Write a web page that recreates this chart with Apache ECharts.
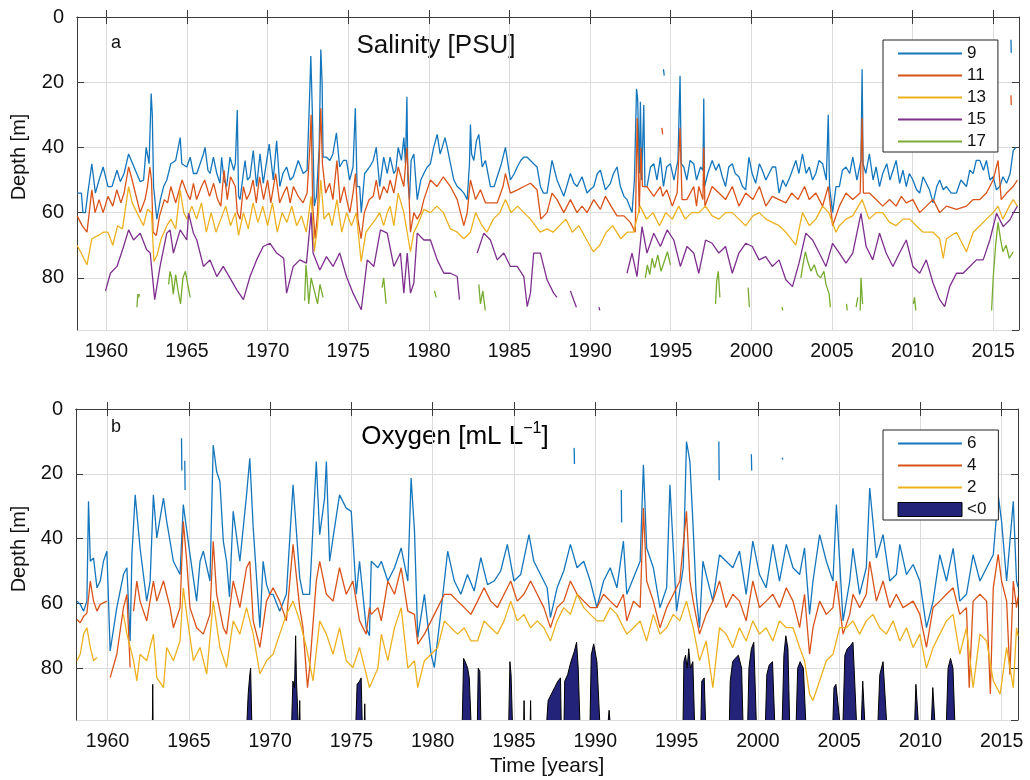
<!DOCTYPE html>
<html>
<head>
<meta charset="utf-8">
<title>Salinity and oxygen isoline depths</title>
<script src="https://cdn.jsdelivr.net/npm/echarts@6/dist/echarts.min.js"></script>
<style>
  html, body { margin: 0; background: #fff; }
  #chart { width: 1030px; height: 780px; }
</style>
</head>
<body>
<div id="chart"></div>
<script>
// depth [m] of isolines, pairs of [year, depth]; [year, null] breaks the line

// panel a: isohalines 9, 11, 13, 15, 17 PSU
const sal9 = [
  [1958.19,54],[1958.45,54],[1958.55,60],[1958.7,60],[1958.85,54],[1959.1,45],[1959.32,54],[1959.55,50],[1959.8,46],[1960.1,52],
  [1960.35,52],[1960.66,47],[1960.87,50.5],[1961.1,48],[1961.38,42],[1961.5,42],[1961.8,47],[1962.1,50.5],[1962.31,50],[1962.47,40],
  [1962.65,45],[1962.78,23.5],[1962.85,30],[1962.93,52],[1963.13,62],[1963.35,56],[1963.55,52],[1963.75,50],[1964.0,45],[1964.3,44],
  [1964.58,37],[1964.68,45],[1964.99,46],[1965.2,43],[1965.4,48],[1965.61,48],[1966.02,42],[1966.12,40],[1966.3,47],[1966.43,48],
  [1966.64,43],[1966.85,48],[1967.05,51],[1967.15,43],[1967.3,50],[1967.46,52],[1967.67,43],[1967.9,47],[1968.0,45],[1968.12,28.5],
  [1968.2,55],[1968.29,56],[1968.6,44],[1968.75,50],[1968.91,49],[1969.11,41],[1969.32,52],[1969.53,42],[1969.73,51],[1970.1,39],
  [1970.35,50],[1970.56,38],[1970.76,52],[1970.95,48],[1971.18,46],[1971.4,50],[1971.59,49],[1971.9,44],[1972.21,48],[1972.45,47],
  [1972.62,22],[1972.68,12],[1972.78,30],[1972.9,58],[1973.03,55],[1973.2,40],[1973.3,10],[1973.38,20],[1973.44,43],[1973.65,43],
  [1973.86,44],[1974.05,42],[1974.27,35.5],[1974.47,46],[1974.7,44],[1974.89,44],[1975.09,50],[1975.3,46],[1975.44,28],[1975.55,52],
  [1975.71,52],[1975.81,60],[1976.02,48],[1976.33,46],[1976.55,44],[1976.74,40],[1976.95,52],[1977.2,43],[1977.42,48],[1977.6,43],
  [1977.83,48],[1977.95,47],[1978.1,40],[1978.3,44],[1978.45,37],[1978.55,45],[1978.64,24.5],[1978.7,50],[1978.8,56],[1978.9,44],
  [1979.07,42],[1979.28,56],[1979.5,50],[1979.69,48],[1979.9,46],[1980.1,45],[1980.3,40],[1980.52,36],[1980.7,42],[1980.83,40],
  [1981.0,37],[1981.14,40],[1981.34,45],[1981.55,50],[1981.76,52],[1982.0,53],[1982.17,54],[1982.38,56],[1982.52,45],[1982.58,33],
  [1982.65,42],[1982.79,44],[1982.95,38],[1983.1,36],[1983.31,46],[1983.51,44],[1983.82,52],[1984.05,52],[1984.24,49],[1984.5,45],
  [1984.75,40],[1985.06,50],[1985.3,48],[1985.48,46],[1985.7,44],[1985.89,43],[1986.1,43],[1986.3,44],[1986.5,45],[1986.71,46],
  [1986.92,52],[1987.1,54],[1987.33,54],[1987.64,44],[1987.95,50],[1988.2,53],[1988.37,55],[1988.78,48],[1989.0,51],[1989.19,52],
  [1989.5,49],[1989.81,54],[1990.0,53],[1990.23,52],[1990.45,48],[1990.64,47],[1990.95,53],[1991.26,51],[1991.45,48],[1991.67,46],
  [1991.88,52],[1992.1,55],[1992.29,56],[1992.6,60],[1992.75,50],[1992.88,22],[1992.95,25],[1993.05,48],[1993.12,26],[1993.2,50],
  [1993.33,27],[1993.4,52],[1993.53,52],[1993.75,46],[1993.95,45],[1994.15,50],[1994.36,43],[1994.55,52],[1994.75,46],[1994.98,45],
  [1995.2,50],[1995.45,44],[1995.58,18],[1995.65,45],[1995.81,46],[1996.0,50],[1996.2,44],[1996.43,45],[1996.6,50],[1996.85,46],
  [1997.0,47],[1997.05,25],[1997.1,52],[1997.3,48],[1997.57,44],[1997.8,47],[1997.99,45],[1998.2,49],[1998.4,52],[1998.6,46],
  [1998.82,45],[1999.0,48],[1999.23,49],[1999.45,52],[1999.65,53],[1999.85,43],[2000.05,48],[2000.27,51],[2000.5,45],[2000.68,47],
  [2000.9,50],[2001.1,48],[2001.3,46],[2001.51,46],[2001.72,54],[2001.95,50],[2002.14,52],[2002.4,49],[2002.76,44],[2002.95,48],
  [2003.17,42],[2003.4,48],[2003.59,46],[2003.8,50],[2004.0,48],[2004.2,44],[2004.42,45],[2004.65,50],[2004.77,30],[2004.85,52],
  [2005.04,60],[2005.25,52],[2005.46,52],[2005.65,47],[2005.87,46],[2006.1,48],[2006.29,43],[2006.55,50],[2006.8,44],[2006.87,16],
  [2006.93,45],[2007.1,48],[2007.32,42],[2007.55,50],[2007.74,46],[2007.95,52],[2008.15,48],[2008.4,45],[2008.6,50],[2008.98,44],
  [2009.2,51],[2009.4,47],[2009.61,52],[2009.8,48],[2010.02,50],[2010.25,53],[2010.44,54],[2010.65,49],[2010.85,51],[2011.05,53],
  [2011.27,57],[2011.5,52],[2011.68,50],[2011.9,53],[2012.1,52],[2012.4,54],[2012.72,54],[2013.0,50],[2013.34,52],[2013.55,47],
  [2013.76,48],[2013.95,44],[2014.17,44],[2014.4,47],[2014.58,44],[2014.8,50],[2015.0,49],[2015.2,53],[2015.41,52],[2015.6,49],
  [2015.83,51],[2016.05,48],[2016.24,41],[2016.4,40],
  [2016.4,null],[1994.55,16],[1994.6,18],[1994.6,null],[2016.1,7],[2016.12,11]
];
const sal11 = [
  [1958.19,61],[1958.5,64],[1958.8,66],[1959.1,53],[1959.3,60],[1959.55,56],[1959.8,60],[1960.1,55],[1960.4,58],[1960.65,53],
  [1960.9,57],[1961.1,54],[1961.38,46],[1961.6,50],[1961.9,56],[1962.1,60],[1962.4,56],[1962.55,52],[1962.7,46],[1962.8,50],
  [1962.9,66],[1963.1,67],[1963.3,61],[1963.6,56],[1963.8,57],[1964.0,52],[1964.3,57],[1964.58,52],[1964.7,50],[1964.99,54],
  [1965.2,56],[1965.4,51],[1965.6,56],[1965.9,52],[1966.1,50],[1966.4,55],[1966.65,51],[1966.9,56],[1967.1,58],[1967.3,47],
  [1967.5,56],[1967.7,49],[1968.0,52],[1968.12,60],[1968.3,62],[1968.5,52],[1968.7,56],[1968.9,54],[1969.1,50],[1969.3,57],
  [1969.5,49],[1969.75,56],[1970.0,50],[1970.2,57],[1970.5,48],[1970.75,57],[1971.0,54],[1971.2,52],[1971.4,57],[1971.6,52],
  [1971.9,55],[1972.2,57],[1972.45,54],[1972.62,40],[1972.7,30],[1972.8,58],[1972.95,68],[1973.1,60],[1973.3,28],[1973.4,45],
  [1973.6,54],[1973.85,51],[1974.05,56],[1974.3,44],[1974.5,57],[1974.75,52],[1974.95,57],[1975.1,60],[1975.3,54],[1975.45,48],
  [1975.6,62],[1975.8,68],[1976.0,60],[1976.3,56],[1976.55,55],[1976.74,50],[1976.95,56],[1977.2,52],[1977.42,54],[1977.6,50],
  [1977.83,54],[1978.1,46],[1978.45,52],[1978.64,40],[1978.75,52],[1978.86,66],[1979.07,60],[1979.28,62],[1979.5,60],[1979.69,56],
  [1980.1,50],[1980.5,52],[1980.9,49],[1981.34,52],[1981.76,56],[1982.17,64],[1982.38,60],[1982.58,50],[1982.9,56],[1983.2,53],
  [1983.51,57],[1984.24,57],[1984.6,52],[1984.75,48],[1985.06,54],[1985.5,53],[1985.89,52],[1986.3,51],[1986.71,53],[1986.95,62],
  [1987.33,60],[1987.64,54],[1987.95,56],[1988.37,60],[1988.78,56],[1989.19,60],[1989.5,58],[1989.81,60],[1990.23,56],[1990.64,59],
  [1990.95,55],[1991.3,58],[1991.67,61],[1992.1,61],[1992.5,63],[1992.8,66],[1992.92,31],[1993.05,60],[1993.15,40],[1993.25,52],
  [1993.53,52],[1993.95,55],[1994.36,52],[1994.5,55],[1994.75,53],[1995.1,58],[1995.4,54],[1995.58,34],[1995.7,56],[1996.0,56],
  [1996.43,52],[1996.6,58],[1996.74,52],[1997.0,56],[1997.05,40],[1997.12,58],[1997.35,55],[1997.57,52],[1997.99,54],[1998.4,56],
  [1998.82,52],[1999.23,58],[1999.65,54],[2000.1,56],[2000.5,52],[2000.9,58],[2001.3,55],[2001.72,56],[2002.14,57],[2002.5,54],
  [2002.9,56],[2003.3,52],[2003.59,56],[2004.0,54],[2004.42,58],[2004.77,52],[2005.04,64],[2005.46,58],[2005.87,54],[2006.29,56],
  [2006.75,54],[2006.87,31],[2006.95,54],[2007.32,54],[2007.74,56],[2008.15,58],[2008.57,56],[2008.98,58],[2009.3,55],[2009.61,57],
  [2010.02,56],[2010.44,60],[2010.85,58],[2011.27,56],[2011.68,60],[2012.1,58],[2012.72,59],[2013.34,58],[2013.76,56],[2014.17,56],
  [2014.58,54],[2015.0,50],[2015.3,44],[2015.5,56],[2015.83,54],[2016.24,52],[2016.5,50],
  [2016.5,null],[1994.45,34],[1994.5,36],[1994.5,null],[2016.1,24],[2016.12,27]
];
const sal13 = [
  [1958.19,70],[1958.5,73],[1958.8,76],[1959.1,68],[1959.5,67],[1959.8,66],[1960.1,66],[1960.4,70],[1960.7,64],[1961.0,65],
  [1961.38,52],[1961.6,57],[1962.0,61],[1962.3,64],[1962.55,59],[1962.8,60],[1962.95,75],[1963.15,73],[1963.4,68],[1963.75,64],
  [1964.0,62],[1964.3,65],[1964.58,53],[1964.8,60],[1965.0,62],[1965.3,58],[1965.6,62],[1965.9,57],[1966.2,66],[1966.5,60],
  [1966.8,66],[1967.1,62],[1967.4,58],[1967.7,64],[1968.0,60],[1968.2,67],[1968.5,60],[1968.8,65],[1969.1,57],[1969.4,63],
  [1969.7,58],[1970.0,64],[1970.3,57],[1970.6,66],[1970.9,60],[1971.2,63],[1971.5,58],[1971.8,64],[1972.1,61],[1972.4,66],
  [1972.7,55],[1972.9,72],[1973.1,64],[1973.3,50],[1973.5,62],[1973.8,60],[1974.0,64],[1974.3,56],[1974.6,66],[1974.9,60],
  [1975.2,64],[1975.5,60],[1975.8,75],[1976.1,66],[1976.4,64],[1976.7,62],[1976.95,60],[1977.2,64],[1977.42,60],[1977.6,58],
  [1977.83,64],[1978.1,54],[1978.45,60],[1978.86,72],[1979.07,66],[1979.28,64],[1979.69,59],[1980.1,60],[1980.5,58],[1980.9,60],
  [1981.34,65],[1981.76,66],[1982.17,68],[1982.58,66],[1982.9,60],[1983.3,64],[1983.6,66],[1984.0,62],[1984.4,60],[1984.75,56],
  [1985.1,60],[1985.5,58],[1985.9,60],[1986.3,62],[1986.9,66],[1987.33,65],[1987.7,66],[1988.1,64],[1988.5,62],[1988.9,66],
  [1989.3,64],[1989.75,68],[1990.2,72],[1990.6,70],[1991.0,66],[1991.4,64],[1991.9,68],[1992.3,66],[1992.7,66],[1993.1,58],
  [1993.5,62],[1993.9,60],[1994.3,64],[1994.7,60],[1995.1,62],[1995.5,58],[1995.9,62],[1996.3,60],[1996.74,60],[1997.16,58],
  [1997.57,61],[1997.99,62],[1998.4,60],[1998.82,60],[1999.23,62],[1999.65,64],[2000.1,61],[2000.5,60],[2000.9,62],[2001.3,63],
  [2001.72,64],[2002.14,66],[2002.76,70],[2003.17,60],[2003.6,64],[2004.0,62],[2004.42,58],[2004.8,60],[2005.25,66],[2005.46,64],
  [2005.87,62],[2006.29,61],[2006.87,56],[2007.3,62],[2007.74,60],[2008.15,60],[2008.57,63],[2008.98,64],[2009.4,62],[2009.82,62],
  [2010.23,64],[2010.65,66],[2011.27,66],[2011.68,68],[2011.9,74],[2012.1,68],[2012.72,66],[2013.34,72],[2013.76,66],[2014.17,64],
  [2014.58,62],[2015.0,60],[2015.3,58],[2015.6,62],[2016.0,58],[2016.24,56],[2016.5,58]
];
const sal15 = [
  [1959.95,84],[1960.25,78.6],[1960.66,76.5],[1961.07,70.4],[1961.38,65.3],[1961.69,68.4],[1962.1,66.3],[1962.5,71.4],[1962.72,72.4],[1962.8,76.5],
  [1963.0,86.7],[1963.33,76.5],[1963.75,66.3],[1963.95,65.3],[1964.16,72.4],[1964.58,65.3],[1964.99,68.4],[1965.1,60.2],[1965.4,66.3],[1965.61,68.4],
  [1966.02,76.5],[1966.43,74.5],[1966.85,79.6],[1967.25,76.5],[1968.09,83.7],[1968.5,86.7],[1968.91,79.6],[1969.32,74.5],[1969.73,70.4],[1970.15,69.4],
  [1970.56,72.4],[1971.0,74],[1971.18,84.7],[1971.59,76.5],[1972.0,74.5],[1972.41,75.5],[1972.7,60],[1972.82,72.4],[1973.24,77.6],[1973.65,73.5],
  [1974.06,76.5],[1974.47,72.4],[1974.89,79.6],[1975.3,84.7],[1975.5,86.7],[1975.81,89.8],[1976.18,74.5],[1976.59,76.5],[1977.0,65.3],[1977.42,66.3],
  [1977.83,76.5],[1978.24,72.4],[1978.45,84.7],[1978.66,72.4],[1978.86,84.7],[1979.07,81.6],[1979.28,66.3],[1979.69,68.4],[1980.1,68.4],[1980.52,74.5],
  [1980.93,78.6],[1981.34,78.6],[1981.76,79.6],[1981.9,86.7],[1981.9,null],
  [1983.0,72.4],[1983.41,66.3],[1983.82,68.4],[1984.24,74.5],[1984.65,72.4],[1985.06,76.5],[1985.48,76.5],[1985.89,79.6],[1986.1,88.8],[1986.3,84.7],
  [1986.5,72.4],[1986.92,72.4],[1987.33,80.6],[1987.74,84.7],[1987.95,86],[1987.95,null],
  [1988.78,84],[1989.0,87],[1989.15,89],[1989.15,null],[1990.55,89],[1990.6,90],[1990.6,null],
  [1992.29,78.6],[1992.6,72.4],[1992.91,79.6],[1993.22,64.3],[1993.53,72.4],[1993.95,66.3],[1994.36,70.4],[1994.78,65.3],[1995.19,68.4],[1995.6,76.5],
  [1996.01,70.4],[1996.43,72.4],[1996.74,78.6],[1997.16,68.4],[1997.57,69.4],[1997.99,72.4],[1998.4,70.4],[1998.82,78.6],[1999.23,72.4],[1999.65,69.4],
  [2000.06,70.4],[2000.48,74.5],[2000.89,73.5],[2001.3,76.5],[2001.72,74.5],[2002.14,80.6],[2002.55,82.7],[2002.96,75.5],[2003.38,66.3],[2003.8,68.4],
  [2004.21,72.4],[2004.63,76.5],[2005.04,69.4],[2005.46,72.4],[2005.87,75.5],[2006.29,72.4],[2006.8,60.2],[2007.12,70.4],[2007.53,74.5],[2007.95,66.3],
  [2008.36,72.4],[2008.78,76.5],[2009.19,72.4],[2009.61,68.4],[2010.02,76.5],[2010.44,78.6],[2010.85,74.5],[2011.27,81.6],[2011.68,86.7],[2011.99,88.8],
  [2012.3,82.7],[2012.72,78.6],[2013.13,78.6],[2013.55,76.5],[2013.96,74.5],[2014.38,74.5],[2014.79,68.4],[2015.21,60.2],[2015.62,64.3],[2016.04,62.2],
  [2016.24,60.2],[2016.5,58]
];
const sal17 = [
  [1961.9,89],[1961.95,85],[1962.0,86],[1962.05,85],[1962.05,null],
  [1963.86,82],[1963.95,78],[1964.05,80],[1964.15,85],[1964.3,79],[1964.45,84],[1964.6,88],[1964.75,80],[1964.9,78],[1965.05,82],[1965.2,86],[1965.2,null],
  [1972.3,87],[1972.38,76],[1972.45,80],[1972.55,88],[1972.7,80],[1972.9,84],[1973.1,88],[1973.25,82],[1973.44,86],[1973.44,null],
  [1977.1,83],[1977.2,80],[1977.35,88],[1977.35,null],[1980.35,84],[1980.45,86],[1980.45,null],
  [1983.1,82],[1983.2,88],[1983.35,84],[1983.5,90],[1983.5,null],
  [1993.43,80],[1993.55,76],[1993.7,79],[1993.85,74],[1994.0,77],[1994.2,73],[1994.4,78],[1994.6,75],[1994.8,72],[1994.98,76],[1994.98,null],
  [1997.78,88],[1997.85,81],[1997.95,78],[1998.05,86],[1998.05,null],[1999.8,83],[1999.88,89],[1999.88,null],[2001.9,89],[2001.95,90],[2001.95,null],
  [2003.07,80],[2003.2,76],[2003.35,72],[2003.5,75],[2003.7,78],[2003.9,76],[2004.1,79],[2004.3,80],[2004.5,78],[2004.63,82],[2004.83,85],[2004.9,89],[2004.9,null],
  [2005.9,88],[2005.95,90],[2005.95,null],[2006.5,89],[2006.6,86],[2006.6,null],[2006.75,90],[2006.8,80],[2006.9,88],[2006.9,null],
  [2010.05,88],[2010.12,86],[2010.2,90],[2010.2,null],
  [2014.9,90],[2015.0,80],[2015.15,70],[2015.3,63],[2015.45,68],[2015.6,72],[2015.8,70],[2016.0,74],[2016.24,72]
];

// panel b: oxygen isolines 6, 4, 2 mL/L and anoxic (<0) patches
const oxy6 = [
  [1958.12,59.3],[1958.32,60.3],[1958.53,62.4],[1958.73,59.3],[1958.83,28.5],[1958.94,47],[1959.14,46],[1959.35,55.2],[1959.55,53.1],[1959.75,47],
  [1959.96,43.9],[1960.16,74.7],[1960.57,61.3],[1960.98,51.1],[1961.19,49],[1961.39,71.6],[1961.5,45],[1961.7,26.5],[1962.0,42.9],[1962.41,59.3],
  [1962.62,53.1],[1962.82,26.5],[1963.03,39.8],[1963.44,27.5],[1963.64,34.7],[1964.05,47],[1964.46,51.1],[1964.66,29.5],[1965.07,44.9],[1965.48,59.3],
  [1965.69,47],[1965.89,43.9],[1966.3,53.1],[1966.5,11.1],[1966.71,19.3],[1966.91,22.4],[1967.12,40.8],[1967.32,47],[1967.5,58],[1967.73,31.6],
  [1967.9,38],[1968.14,47],[1968.55,26.5],[1968.75,15.2],[1968.96,36.7],[1969.37,67.5],[1969.57,47],[1969.78,54.2],[1969.98,57.2],[1970.18,57.2],
  [1970.59,62.4],[1971.0,57.2],[1971.41,23.4],[1971.82,52.1],[1972.02,57.2],[1972.43,57.2],[1972.84,16.2],[1973.05,38.8],[1973.35,27.5],[1973.46,16.2],
  [1973.66,47],[1973.87,39.8],[1974.27,26.5],[1974.68,30.6],[1974.99,31.6],[1975.3,57.2],[1975.5,47],[1975.91,67.5],[1976.11,70],[1976.22,47],
  [1976.63,49],[1976.84,47],[1977.24,53.1],[1977.65,49],[1978.06,42.9],[1978.47,53.1],[1978.67,21.3],[1978.88,37.7],[1979.08,70.6],[1979.49,57.2],
  [1979.9,75.7],[1980.1,79.8],[1980.51,62.4],[1980.92,43.9],[1981.33,53.1],[1981.73,57.2],[1982.14,51.1],[1982.55,56.2],[1982.96,45.9],[1983.37,54.2],
  [1983.78,53.1],[1984.18,50],[1984.59,41.8],[1985.0,53.1],[1985.41,51.1],[1985.92,38.8],[1986.22,47],[1986.63,51.1],[1987.04,55.2],[1987.24,64.4],
  [1987.65,55.2],[1988.06,50],[1988.47,41.8],[1988.88,49],[1989.29,47],[1989.69,53.1],[1990.1,61.3],[1990.51,53.1],[1990.92,49],[1991.33,55.2],
  [1991.73,40.8],[1991.94,57.2],[1992.35,52.1],[1992.76,47],[1992.96,17.2],[1993.16,42.9],[1993.57,49],[1993.98,61.3],[1994.39,55.2],[1994.59,23.4],
  [1995.0,62.4],[1995.41,49],[1995.61,10.1],[1995.82,16.2],[1996.02,36.7],[1996.2,57],[1996.41,67.5],[1996.62,47],[1996.82,51.1],[1997.23,59.3],
  [1997.64,45],[1998.05,47],[1998.46,49],[1998.87,43.9],[1999.28,57.2],[1999.69,40.8],[2000.1,51.1],[2000.51,55.2],[2000.92,41.8],[2001.33,53.1],
  [2001.75,41.8],[2002.16,49],[2002.57,51.1],[2002.87,42.9],[2003.18,63.4],[2003.39,53.1],[2003.8,38.8],[2004.21,47],[2004.62,53.1],[2004.83,29.5],
  [2005.24,65.4],[2005.65,53.1],[2005.85,43],[2006.26,57.2],[2006.67,49],[2006.88,24.4],[2007.29,46],[2007.7,38.8],[2008.11,53.1],[2008.52,51.1],
  [2008.73,41.8],[2009.14,51.1],[2009.55,48],[2009.96,53.1],[2010.37,67.5],[2010.78,59.3],[2011.19,45],[2011.6,53.1],[2012.01,43],[2012.42,59.3],
  [2012.83,57.2],[2013.24,45],[2013.66,53.1],[2014.07,49],[2014.48,45],[2014.78,26.5],[2014.99,34.7],[2015.3,53.1],[2015.71,28.5],[2015.91,53.1],
  [2016.0,55],
  [2016.0,null],[1964.55,9],[1964.57,19],[1964.57,null],[1964.75,16],[1964.77,25],[1964.77,null],[1988.7,12],[1988.72,17],[1988.72,null],
  [1991.6,25],[1991.62,35],[1991.62,null],[1997.6,10],[1997.62,22],[1997.62,null],[1999.6,14],[1999.62,19],[1999.62,null],[2001.5,15],[2001.53,15.6]
];
const oxy4 = [
  [1958.12,65],[1958.32,66],[1958.53,64],[1958.73,63],[1958.94,53.1],[1959.14,59.3],[1959.35,62.4],[1959.55,60.3],[1959.96,59.3],[1959.96,null],
  [1960.16,82.9],[1960.57,75.7],[1960.98,61.3],[1961.19,57.2],[1961.39,79.8],[1961.39,null],
  [1961.6,62.4],[1961.8,53.1],[1962.0,59.3],[1962.41,65.4],[1962.82,53.1],[1963.03,59.3],[1963.44,53.1],[1963.85,61.3],[1964.05,67.5],[1964.46,61.3],
  [1964.66,34.7],[1964.87,47],[1965.07,61.3],[1965.48,67.5],[1965.89,69.5],[1966.3,63.4],[1966.5,40.8],[1966.71,57.2],[1967.12,67.5],[1967.32,69.5],
  [1967.73,53.1],[1968.14,61.3],[1968.55,49],[1968.75,47],[1968.96,65.4],[1969.37,73.6],[1969.78,59.3],[1970.18,55.2],[1970.59,59.3],[1971.0,65.4],
  [1971.41,41.8],[1971.82,61.3],[1972.02,67.5],[1972.3,86],[1972.43,80],[1972.84,53.1],[1973.05,47],[1973.46,57.2],[1973.87,59.3],[1974.27,49],
  [1974.68,57.2],[1975.09,53.1],[1975.5,65.4],[1975.91,69.5],[1976.11,61.3],[1976.22,63.4],[1976.63,61.3],[1976.84,65.4],[1977.24,53.1],[1977.65,57.2],
  [1978.06,49],[1978.47,62.4],[1978.88,63.4],[1979.08,72.6],[1979.49,69.5],[1979.9,65.4],[1980.31,61.3],[1980.72,57.2],[1981.12,57.2],[1981.53,59.3],
  [1981.94,61.3],[1982.35,63.4],[1982.76,59.3],[1983.16,55.2],[1983.57,59.3],[1983.98,61.3],[1984.39,57.2],[1984.8,53.1],[1985.2,59.3],[1985.61,57.2],
  [1986.02,53.1],[1986.43,57.2],[1986.84,61.3],[1987.24,67.5],[1987.65,61.3],[1988.06,59.3],[1988.47,53.1],[1988.88,57.2],[1989.29,59.3],[1989.69,61.3],
  [1990.1,61.3],[1990.51,57.2],[1990.92,59.3],[1991.33,61.3],[1991.73,57.2],[1991.94,65.4],[1992.35,59.3],[1992.76,61.3],[1992.96,30.6],[1993.16,53.1],
  [1993.57,59.3],[1993.98,67.5],[1994.39,61.3],[1994.8,57.2],[1995.2,53.1],[1995.61,31.6],[1995.82,53.1],[1996.02,59.3],[1996.41,69.5],[1996.82,63.4],
  [1997.23,59.3],[1997.64,53.1],[1998.05,61.3],[1998.46,57.2],[1998.87,59.3],[1999.28,65.4],[1999.69,53.1],[2000.1,61.3],[2000.51,59.3],[2000.92,57.2],
  [2001.33,61.3],[2001.75,55.2],[2002.16,59.3],[2002.57,67.5],[2002.87,57.2],[2003.18,75.7],[2003.39,67.5],[2003.8,59.3],[2004.21,63.4],[2004.62,61.3],
  [2004.83,53.1],[2005.24,69.5],[2005.65,63.4],[2005.85,57.2],[2006.26,61.3],[2006.67,57.2],[2006.88,47],[2007.29,59.3],[2007.7,53.1],[2008.11,61.3],
  [2008.52,57.2],[2008.93,61.3],[2009.55,59.3],[2009.96,63.4],[2010.37,73.6],[2010.78,61.3],[2011.19,59.3],[2011.6,57.2],[2012.01,55.2],[2012.42,63.4],
  [2012.83,61.3],[2013.0,86],[2013.24,59.3],[2013.66,57.2],[2014.07,59.3],[2014.3,88],[2014.48,55.2],[2014.78,44.9],[2014.99,53.1],[2015.3,59.3],
  [2015.5,82],[2015.71,53.1],[2015.91,61.3],[2016.0,58]
];
const oxy2 = [
  [1958.12,77.7],[1958.32,75.7],[1958.53,69.5],[1958.73,67.5],[1958.94,73.6],[1959.14,77.7],[1959.35,76.7],[1959.35,null],
  [1960.98,63.4],[1961.19,69.5],[1961.6,77.7],[1961.8,83.9],[1962.0,75.7],[1962.41,77.7],[1962.82,69.5],[1963.03,82.9],[1963.44,86],[1963.64,73.6],
  [1964.05,77.7],[1964.46,71.6],[1964.66,55.2],[1964.87,63.4],[1965.28,77.7],[1965.69,73.6],[1966.1,81.8],[1966.5,59.3],[1966.91,73.6],[1967.32,79.8],
  [1967.73,65.4],[1968.14,69.5],[1968.55,61.3],[1968.96,69.5],[1969.37,81.8],[1969.78,77.7],[1970.18,75.7],[1970.59,69.5],[1971.0,63.4],[1971.41,59.3],
  [1971.82,65.4],[1972.23,73.6],[1972.64,83.9],[1973.05,65.4],[1973.46,69.5],[1973.87,75.7],[1974.27,67.5],[1974.68,77.7],[1975.09,79.8],[1975.5,73.6],
  [1975.91,81.8],[1976.11,86],[1976.22,86],[1976.63,80],[1976.84,69.5],[1977.24,77.7],[1977.65,67.5],[1978.06,61.3],[1978.47,80],[1978.88,77.7],
  [1979.08,86],[1979.49,77.7],[1979.9,75.7],[1980.31,73.6],[1980.72,65.4],[1981.12,67.5],[1981.53,69.5],[1981.94,67.5],[1982.35,71.6],[1982.76,71.6],
  [1983.16,65.4],[1983.57,67.5],[1983.98,69.5],[1984.39,65.4],[1984.8,59.3],[1985.2,65.4],[1985.61,63.4],[1986.02,67.5],[1986.43,65.4],[1986.84,67.5],
  [1987.24,71.6],[1987.65,65.4],[1988.06,61.3],[1988.47,63.4],[1988.88,57.2],[1989.29,61.3],[1989.69,63.4],[1990.1,65.4],[1990.51,65.4],[1990.92,61.3],
  [1991.33,63.4],[1991.73,67.5],[1991.94,69.5],[1992.35,67.5],[1992.76,65.4],[1993.16,71.6],[1993.57,63.4],[1993.98,69.5],[1994.39,67.5],[1994.8,63.4],
  [1995.2,65.4],[1995.61,59.3],[1996.02,67.5],[1996.41,77.7],[1996.82,71.6],[1997.23,86],[1997.64,67.5],[1998.05,69.5],[1998.46,73.6],[1998.87,67.5],
  [1999.28,71.6],[1999.69,65.4],[2000.1,69.5],[2000.51,67.5],[2000.92,71.6],[2001.33,65.4],[2001.75,67.5],[2002.16,67.5],[2002.57,73.6],[2002.87,77.7],
  [2003.18,88],[2003.39,90],[2003.8,83.9],[2004.21,77.7],[2004.62,75.7],[2005.03,67.5],[2005.44,67.5],[2005.85,65.4],[2006.26,69.5],[2006.67,65.4],
  [2007.08,63.4],[2007.49,67.5],[2007.9,69.5],[2008.32,65.4],[2008.73,71.6],[2009.14,67.5],[2009.55,73.6],[2009.96,69.5],[2010.37,80],[2010.78,73.6],
  [2011.19,69.5],[2011.6,65.4],[2012.01,63.4],[2012.42,75.7],[2012.83,67.5],[2013.24,86],[2013.66,69.5],[2014.07,71.6],[2014.48,83.9],[2014.9,88],
  [2015.3,73.6],[2015.71,86],[2015.91,67.5],[2016.0,70]
];
const anoxic = [
  [1962.76,96],[1962.78,85],[1962.8,96],[1962.8,null],
  [1968.58,96],[1968.65,88],[1968.75,82],[1968.8,80],[1968.87,96],[1968.87,null],
  [1971.33,96],[1971.4,84],[1971.5,86],[1971.57,70],[1971.62,84],[1971.72,96],[1971.72,null],[1971.8,96],[1971.82,90],[1971.84,96],[1971.84,null],
  [1975.28,96],[1975.35,85],[1975.5,84],[1975.6,83],[1975.66,96],[1975.66,null],[1975.8,96],[1975.82,91],[1975.84,96],[1975.84,null],
  [1981.82,96],[1981.9,77],[1982.0,78],[1982.15,80],[1982.25,83],[1982.35,96],[1982.35,null],
  [1982.75,96],[1982.8,80],[1982.9,81],[1982.96,96],[1982.96,null],
  [1984.68,96],[1984.75,78],[1984.82,82],[1984.9,96],[1984.9,null],
  [1985.6,96],[1985.62,90],[1985.64,96],[1985.64,null],[1986.0,96],[1986.02,90],[1986.04,96],[1986.04,null],
  [1987.02,96],[1987.1,90],[1987.3,88],[1987.5,86],[1987.7,84],[1987.86,83],[1987.9,96],[1987.9,null],
  [1988.08,96],[1988.12,84],[1988.3,82],[1988.5,78],[1988.7,75],[1988.85,72],[1988.95,80],[1989.05,96],[1989.05,null],
  [1989.68,96],[1989.75,76],[1989.9,72.5],[1990.1,78],[1990.27,96],[1990.27,null],
  [1990.8,96],[1990.85,93],[1990.9,96],[1990.9,null],
  [1995.4,96],[1995.45,78],[1995.55,76],[1995.65,80],[1995.75,74],[1995.85,80],[1996.0,78],[1996.1,96],[1996.1,null],
  [1996.5,96],[1996.55,84],[1996.7,83],[1996.78,96],[1996.78,null],
  [1998.25,96],[1998.3,84],[1998.45,78],[1998.6,77],[1998.8,76],[1999.0,80],[1999.08,96],[1999.08,null],
  [1999.38,96],[1999.45,80],[1999.6,74],[1999.75,72],[1999.9,96],[1999.9,null],
  [2000.47,96],[2000.55,82],[2000.7,79],[2000.9,78],[2001.03,96],[2001.03,null],
  [2001.5,96],[2001.6,76],[2001.72,70],[2001.85,74],[2001.95,96],[2001.95,null],
  [2002.36,96],[2002.45,80],[2002.6,78],[2002.8,80],[2002.94,96],[2002.94,null],
  [2004.62,96],[2004.68,86],[2004.8,85],[2005.03,96],[2005.03,null],
  [2005.24,96],[2005.35,76],[2005.5,74],[2005.7,73],[2005.85,72],[2006.06,96],[2006.06,null],
  [2006.37,96],[2006.45,84],[2006.57,96],[2006.57,null],
  [2007.39,96],[2007.5,82],[2007.7,78],[2007.91,96],[2007.91,null],
  [2009.65,96],[2009.72,85],[2009.86,96],[2009.86,null],
  [2010.68,96],[2010.76,86],[2010.88,96],[2010.88,null],
  [2011.6,96],[2011.7,80],[2011.85,77],[2012.0,80],[2012.11,96]
];

const salNames = ['9', '11', '13', '15', '17'];
const oxyNames = ['6', '4', '2', '<0'];

const FONT = 'Liberation Sans, Arial, sans-serif';
const INK = '#111';
const FRAME = '#3c3c3c';
const colors = {
  blue: '#1476bd', orange: '#d95319', yellow: '#edb120',
  purple: '#7e2f8e', green: '#77ac30', navy: '#23237a'
};
const depthMax = 96;

const chart = echarts.init(document.getElementById('chart'), null, { renderer: 'canvas' });

function timeAxes(gridIndex, min, max, withName) {
  const bottom = {
    type: 'value', gridIndex, position: 'bottom', min, max, splitNumber: 12,
    axisLine: { show: true, lineStyle: { color: FRAME, width: 1 } },
    axisTick: { show: true, inside: true, length: 7, lineStyle: { color: FRAME } },
    axisLabel: {
      show: true, margin: 12, fontSize: 19.5, fontFamily: FONT, color: INK,
      showMinLabel: false, showMaxLabel: false,
      formatter: (v) => String(v)
    },
    splitLine: { show: true, lineStyle: { color: '#dcdcdc', width: 1 } }
  };
  if (withName) {
    Object.assign(bottom, {
      name: 'Time [years]', nameLocation: 'middle', nameGap: 36,
      nameTextStyle: { fontSize: 21, fontFamily: FONT, color: INK }
    });
  }
  const top = {
    type: 'value', gridIndex, position: 'top', min, max, splitNumber: 12,
    axisLine: { show: true, lineStyle: { color: FRAME, width: 1 } },
    axisTick: { show: true, inside: true, length: 7, lineStyle: { color: FRAME } },
    axisLabel: { show: false }, splitLine: { show: false }
  };
  return [bottom, top];
}

function depthAxes(gridIndex) {
  const left = {
    type: 'value', gridIndex, position: 'left', inverse: true, min: 0, max: depthMax, interval: 20,
    axisLine: { show: true, lineStyle: { color: FRAME, width: 1 } },
    axisTick: { show: true, inside: true, length: 7, lineStyle: { color: FRAME } },
    axisLabel: { margin: 13, fontSize: 20, fontFamily: FONT, color: INK, showMaxLabel: false },
    splitLine: { show: true, lineStyle: { color: '#dcdcdc', width: 1 } }
  };
  const right = {
    type: 'value', gridIndex, position: 'right', inverse: true, min: 0, max: depthMax, interval: 20,
    axisLine: { show: true, lineStyle: { color: FRAME, width: 1 } },
    axisTick: { show: true, inside: true, length: 7, lineStyle: { color: FRAME } },
    axisLabel: { show: false }, splitLine: { show: false }
  };
  return [left, right];
}

function isoline(name, data, color, panel) {
  return {
    name, type: 'line', data, xAxisIndex: panel * 2, yAxisIndex: panel * 2,
    symbol: 'none', showSymbol: false, connectNulls: false, silent: true,
    lineStyle: { color, width: 1.3 }, itemStyle: { color }, z: 2
  };
}

// legend rows for lines: hide the marker dot, keep the line
const lineItem = (name) => ({ name, itemStyle: { opacity: 0 } });

const legendBase = {
  orient: 'vertical', left: 883, itemWidth: 64, itemHeight: 14, itemGap: 5,
  backgroundColor: '#fff', borderColor: '#222', borderWidth: 1, borderRadius: 0,
  selectedMode: false, textStyle: { fontSize: 17, fontFamily: FONT, color: INK }
};

const option = {
  animation: false,
  backgroundColor: '#fff',
  grid: [
    { left: 77, top: 17, right: 11, height: 313 },
    { left: 76, top: 409, right: 12, height: 311 }
  ],
  xAxis: [...timeAxes(0, 1958.18, 2016.6, false), ...timeAxes(1, 1958.06, 2016.0, true)],
  yAxis: [...depthAxes(0), ...depthAxes(1)],
  legend: [
    Object.assign({}, legendBase, { top: 40, padding: [5, 12, 2, 14], data: salNames.map(lineItem) }),
    Object.assign({}, legendBase, {
      top: 430, padding: [5, 12, 2, 14],
      data: oxyNames.slice(0, 3).map(lineItem).concat([
        { name: oxyNames[3], icon: 'rect', itemStyle: { opacity: 1, color: colors.navy, borderColor: '#000', borderWidth: 1 } }
      ])
    })
  ],
  graphic: [
    { type: 'text', x: 19, y: 157, rotation: Math.PI / 2, style: { text: 'Depth [m]', font: '20px ' + FONT, fill: INK, align: 'center', verticalAlign: 'middle' } },
    { type: 'text', x: 19, y: 549, rotation: Math.PI / 2, style: { text: 'Depth [m]', font: '20px ' + FONT, fill: INK, align: 'center', verticalAlign: 'middle' } },
    { type: 'text', x: 111, y: 43, style: { text: 'a', font: '18px ' + FONT, fill: INK, verticalAlign: 'middle' } },
    { type: 'text', x: 436, y: 46, style: { text: 'Salinity [PSU]', font: '26px ' + FONT, fill: INK, align: 'center', verticalAlign: 'middle' } },
    { type: 'text', x: 111, y: 427, style: { text: 'b', font: '18px ' + FONT, fill: INK, verticalAlign: 'middle' } },
    {
      type: 'text', x: 455, y: 437,
      style: {
        text: '{m|Oxygen [mL L}{s|−1}{m|]}', align: 'center', verticalAlign: 'middle',
        rich: {
          m: { fontSize: 26, fontFamily: FONT, color: INK, lineHeight: 32 },
          s: { fontSize: 16, fontFamily: FONT, color: INK, verticalAlign: 'top', lineHeight: 16 }
        }
      }
    }
  ],
  series: [
    isoline(salNames[0], sal9, colors.blue, 0),
    isoline(salNames[1], sal11, colors.orange, 0),
    isoline(salNames[2], sal13, colors.yellow, 0),
    isoline(salNames[3], sal15, colors.purple, 0),
    isoline(salNames[4], sal17, colors.green, 0),
    isoline(oxyNames[0], oxy6, colors.blue, 1),
    isoline(oxyNames[1], oxy4, colors.orange, 1),
    isoline(oxyNames[2], oxy2, colors.yellow, 1),
    {
      name: oxyNames[3], type: 'line', data: anoxic, xAxisIndex: 2, yAxisIndex: 2,
      symbol: 'none', showSymbol: false, connectNulls: false, silent: true, z: 3,
      lineStyle: { color: '#000', width: 1 },
      itemStyle: { color: colors.navy },
      areaStyle: { color: colors.navy, opacity: 1, origin: 'end' }
    }
  ]
};

chart.setOption(option);
</script>
</body>
</html>
